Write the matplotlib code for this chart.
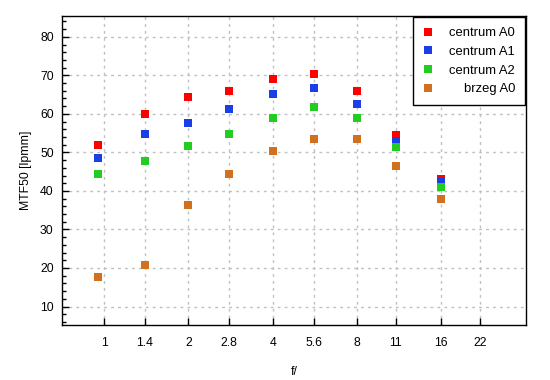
import numpy as np
import matplotlib
matplotlib.use('Agg')
import matplotlib.pyplot as plt
from matplotlib.ticker import MultipleLocator, NullLocator

plt.rcParams['font.family'] = ['Liberation Sans', 'DejaVu Sans']
plt.rcParams['font.size'] = 8.8

# apertures (first lens stop is f/0.95)
f_stops = [0.95, 1.4, 2, 2.8, 4, 5.6, 8, 11, 16]
tick_vals = [1, 1.4, 2, 2.8, 4, 5.6, 8, 11, 16, 22]
tick_labels = ['1', '1.4', '2', '2.8', '4', '5.6', '8', '11', '16', '22']

centrum_a0 = [51.8, 60.0, 64.4, 66.0, 69.0, 70.3, 66.0, 54.6, 43.1]
centrum_a1 = [48.5, 54.7, 57.5, 61.3, 65.2, 66.7, 62.6, 52.9, 42.3]
centrum_a2 = [44.4, 47.7, 51.6, 54.9, 58.8, 61.9, 59.0, 51.3, 41.0]
brzeg_a0 = [17.7, 20.8, 36.4, 44.4, 50.3, 53.6, 53.4, 46.4, 37.9]

series = [('centrum A0', centrum_a0, '#ff0000'),
          ('centrum A1', centrum_a1, '#1a3fe6'),
          ('centrum A2', centrum_a2, '#22cc22'),
          ('brzeg A0', brzeg_a0, '#d07020')]

fig = plt.figure(figsize=(5.5, 3.8), dpi=100)
ax = fig.add_axes([62/550, 1-325/380, (526-62)/550, (325-16)/380])

for name, vals, col in series:
    ax.plot(f_stops, vals, linestyle='none', marker='s', markersize=5.2,
            color=col, markeredgewidth=0, label=name, zorder=3)

ax.set_xscale('log')
ax.set_xlim(0.708, 32.1)
ax.set_ylim(5.2, 85.4)
ax.set_xticks(tick_vals)
ax.set_xticklabels(tick_labels)
ax.xaxis.set_minor_locator(NullLocator())
ax.yaxis.set_major_locator(MultipleLocator(10))
ax.yaxis.set_minor_locator(MultipleLocator(2))

ax.tick_params(axis='both', which='major', direction='in', length=5,
               width=1, color='black', pad=9)
ax.tick_params(axis='y', which='minor', direction='in', length=3, width=1)
ax.tick_params(axis='y', which='major', pad=6)
ax.grid(True, which='major', color='#c0c0c0', linestyle=(0, (2, 3)), linewidth=1)

for s in ax.spines.values():
    s.set_linewidth(1)
    s.set_color('black')

ax.set_xlabel('f/', labelpad=12)
ax.set_ylabel('MTF50 [lpmm]', labelpad=6)

leg = ax.legend(loc='upper right', bbox_to_anchor=(1.0, 1.0), borderaxespad=0.1,
                fancybox=False, edgecolor='black', framealpha=1, fontsize=9.4,
                handlelength=0.75, handletextpad=1.25, borderpad=0.75,
                labelspacing=0.5)
leg.get_frame().set_linewidth(1)

# right-align legend labels
fig.canvas.draw()
renderer = fig.canvas.get_renderer()
widths = [t.get_window_extent(renderer).width for t in leg.get_texts()]
for t, w in zip(leg.get_texts(), widths):
    t.set_position((max(widths) - w, 0))

fig.savefig('out.png', dpi=100)
